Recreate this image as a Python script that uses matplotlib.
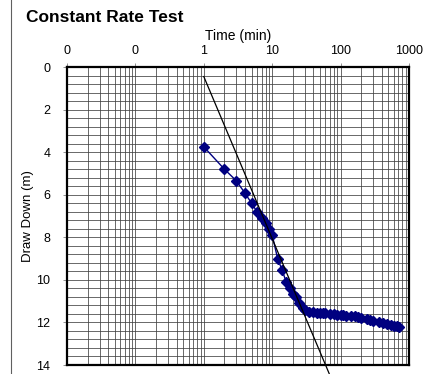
import matplotlib
matplotlib.use('Agg')
import matplotlib.pyplot as plt
from matplotlib.ticker import FixedLocator, MultipleLocator, FuncFormatter, NullFormatter
from matplotlib.lines import Line2D

plt.rcParams['font.family'] = ['Liberation Sans', 'DejaVu Sans']

# drawdown measurements
time_min = [1, 2, 3, 4, 5, 6, 7, 8, 9, 10, 12, 14, 16, 18, 20, 22, 25, 28,
            30, 35, 40, 45, 50, 55, 60, 70, 80, 90, 100, 110, 120, 140, 160,
            180, 200, 240, 270, 300, 360, 420, 480, 540, 600, 660, 720]
drawdown = [3.75, 4.8, 5.35, 5.93, 6.4, 6.8, 7.1, 7.35, 7.6, 7.9, 9.0, 9.55,
            10.1, 10.4, 10.65, 10.8, 11.1, 11.3, 11.42, 11.5, 11.52, 11.54,
            11.56, 11.57, 11.58, 11.6, 11.62, 11.63, 11.65, 11.67, 11.68,
            11.7, 11.72, 11.75, 11.8, 11.85, 11.9, 11.95, 12.0, 12.05, 12.08,
            12.1, 12.15, 12.17, 12.2]

# fitted straight line (Cooper-Jacob)
fit_time = [1, 68]
fit_drawdown = [0.45, 14.4]

x_ticks = [0.01, 0.1, 1, 10, 100, 1000]

fig = plt.figure(figsize=(4.23, 3.74), dpi=100)
ax = fig.add_axes([67 / 423, 1 - 365 / 374, 342 / 423, 298 / 374])

ax.set_xscale('log')
ax.set_xlim(0.01, 1000)
ax.set_ylim(14, 0)

ax.xaxis.set_major_locator(FixedLocator(x_ticks))
ax.xaxis.set_major_formatter(FuncFormatter(lambda v, p: '%.0f' % v))
ax.xaxis.set_minor_formatter(NullFormatter())
ax.yaxis.set_major_locator(MultipleLocator(2))
ax.yaxis.set_minor_locator(MultipleLocator(0.4))

ax.xaxis.tick_top()
ax.xaxis.set_label_position('top')
ax.tick_params(which='major', direction='out', length=3, width=0.6,
               labelsize=9, color='#808080')
ax.tick_params(axis='x', which='major', pad=4)
ax.tick_params(axis='y', which='major', pad=9)
ax.tick_params(which='minor', length=0)

ax.grid(True, which='both', color='#404040', linewidth=0.55)
ax.set_axisbelow(True)
for s in ax.spines.values():
    s.set_linewidth(1.6)

ax.plot(time_min, drawdown, color='#000080', marker='D', markersize=5.5,
        linewidth=1, zorder=3)
ax.plot(fit_time, fit_drawdown, color='black', linewidth=0.9,
        clip_on=False, zorder=4)

ax.set_xlabel('Time (min)', fontsize=10, labelpad=4)
ax.set_ylabel('Draw Down (m)', fontsize=9.5, labelpad=2)

fig.text(26 / 423, 1 - 17 / 374, 'Constant Rate Test', fontsize=12.5,
         fontweight='bold', va='center', ha='left')
fig.add_artist(Line2D([11 / 423, 11 / 423], [0, 1], color='#606060',
                      linewidth=0.8))

fig.savefig('out.png', dpi=100)
